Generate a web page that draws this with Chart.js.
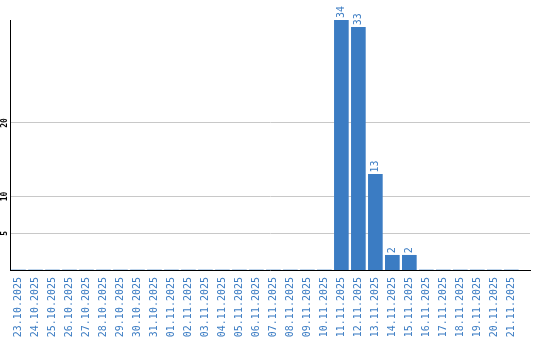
<!DOCTYPE html>
<html>
<head>
<meta charset="utf-8">
<script src="https://cdn.jsdelivr.net/npm/chart.js@4.4.1/dist/chart.umd.min.js"></script>
<style>
  html, body { margin: 0; padding: 0; background: #fff; }
  #wrap { width: 540px; height: 340px; }
</style>
</head>
<body>
<div id="wrap"><canvas id="myChart" width="540" height="340"></canvas></div>
<script>
// dates on the x axis
const dates = [
  '23.10.2025', '24.10.2025', '25.10.2025', '26.10.2025', '27.10.2025',
  '28.10.2025', '29.10.2025', '30.10.2025', '31.10.2025', '01.11.2025',
  '02.11.2025', '03.11.2025', '04.11.2025', '05.11.2025', '06.11.2025',
  '07.11.2025', '08.11.2025', '09.11.2025', '10.11.2025', '11.11.2025',
  '12.11.2025', '13.11.2025', '14.11.2025', '15.11.2025', '16.11.2025',
  '17.11.2025', '18.11.2025', '19.11.2025', '20.11.2025', '21.11.2025'
];
// count per day
const counts = [
  0, 0, 0, 0, 0, 0, 0, 0, 0, 0,
  0, 0, 0, 0, 0, 0, 0, 0, 0, 34,
  33, 13, 2, 2, 0, 0, 0, 0, 0, 0
];
// y tick labels shown
const yTicks = [5, 10, 20];

const blue = '#3b7cc3';

// value written above each bar, rotated
const barValues = {
  id: 'barValues',
  afterDatasetsDraw(chart) {
    const ctx = chart.ctx;
    const meta = chart.getDatasetMeta(0);
    ctx.save();
    ctx.fillStyle = blue;
    ctx.font = '10px "DejaVu Sans Mono"';
    ctx.textAlign = 'left';
    ctx.textBaseline = 'middle';
    meta.data.forEach((bar, i) => {
      if (!counts[i]) return;
      ctx.save();
      ctx.translate(bar.x, bar.y - 2);
      ctx.rotate(-Math.PI / 2);
      ctx.fillText(String(counts[i]), 0, 0);
      ctx.restore();
    });
    ctx.restore();
  }
};

const ctx = document.getElementById('myChart').getContext('2d');
const myChart = new Chart(ctx, {
  type: 'bar',
  data: {
    datasets: [{
      data: counts.map((v, i) => ({ x: i, y: v })),
      backgroundColor: blue,
      barThickness: 14
    }]
  },
  options: {
    responsive: false,
    animation: false,
    layout: { padding: { top: 20, right: 10, left: 0, bottom: 0 } },
    plugins: {
      legend: { display: false },
      tooltip: { enabled: false }
    },
    scales: {
      x: {
        type: 'linear',
        min: -0.5,
        max: 30.1,
        offset: false,
        grid: { display: false, drawTicks: false },
        border: { color: '#000', width: 1 },
        afterBuildTicks: (scale) => {
          scale.ticks = dates.map((d, i) => ({ value: i }));
        },
        afterFit: (scale) => { scale.height = 70; },
        ticks: {
          autoSkip: false,
          minRotation: 90,
          maxRotation: 90,
          padding: 7,
          color: blue,
          font: { family: 'DejaVu Sans Mono', size: 10 },
          callback: (v) => dates[v] || ''
        }
      },
      y: {
        min: 0,
        max: 34,
        grid: { color: '#c8c8c8', drawTicks: false },
        border: { color: '#000', width: 1 },
        afterBuildTicks: (scale) => {
          scale.ticks = yTicks.map(v => ({ value: v }));
        },
        afterFit: (scale) => { scale.width = 10; },
        ticks: {
          minRotation: 90,
          maxRotation: 90,
          crossAlign: 'center',
          padding: 0,
          color: '#000',
          font: { family: 'DejaVu Sans Mono', size: 8, weight: 'bold' }
        }
      }
    }
  },
  plugins: [barValues]
});
</script>
</body>
</html>
